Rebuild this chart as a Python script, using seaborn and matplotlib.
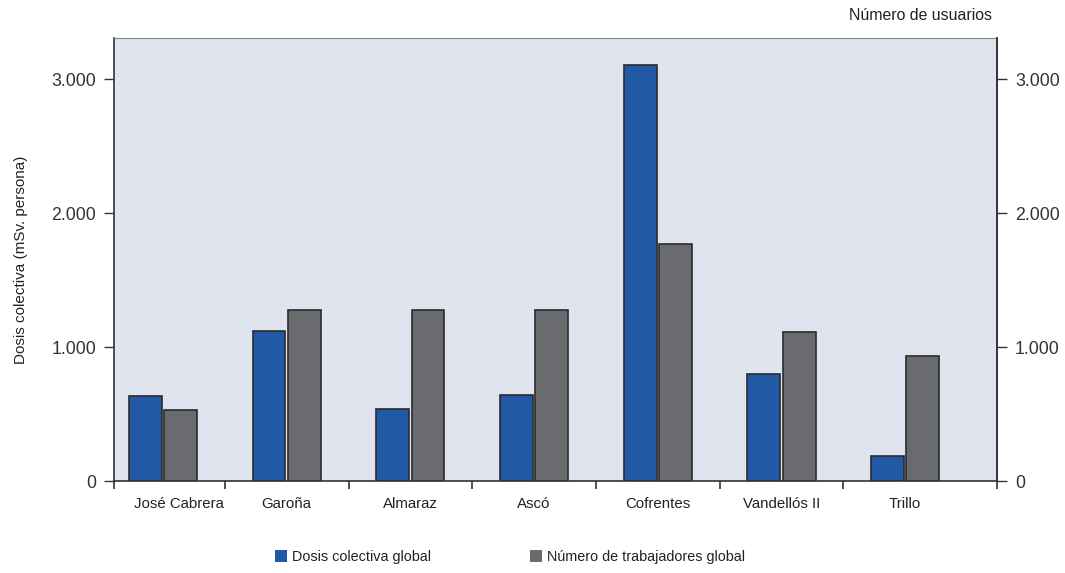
import numpy as np
import pandas as pd
import matplotlib as mpl
mpl.use('Agg')
import matplotlib.pyplot as plt
import matplotlib.transforms as mtransforms
from matplotlib.patches import Patch
from matplotlib.ticker import FuncFormatter, FixedLocator
import seaborn as sns

centrales = ['José Cabrera', 'Garoña', 'Almaraz', 'Ascó', 'Cofrentes', 'Vandellós II', 'Trillo']
dosis = [632, 1117, 537, 642, 3104, 799, 189]
trabajadores = [532, 1276, 1276, 1276, 1766, 1112, 933]
series = ['Dosis colectiva global', 'Número de trabajadores global']
colores = ['#2159A6', '#6A6B6F']
yticks = [0, 1000, 2000, 3000]

df = pd.DataFrame({
    'central': centrales * 2,
    'valor': dosis + trabajadores,
    'serie': [series[0]] * len(centrales) + [series[1]] * len(centrales),
})

sns.set_style('white')
plt.rcParams['font.family'] = ['Liberation Sans', 'DejaVu Sans']

fig = plt.figure(figsize=(10.65, 5.73), dpi=100)
ax = fig.add_axes([114 / 1065, 1 - 481 / 573, (997 - 114) / 1065, (481 - 38) / 573])
ax.set_facecolor('#DFE4EF')

sns.barplot(data=df, x='central', y='valor', hue='serie', palette=colores,
            width=0.57, gap=0.07, edgecolor='#2b2b2b', linewidth=1.2,
            saturation=1, ax=ax, legend=False)

ymax = 3306
ax.set_ylim(0, ymax)
ax.set_xlim(-0.396, 6.742)
fmt = FuncFormatter(lambda v, p: f'{int(v):,}'.replace(',', '.'))
ax.yaxis.set_major_locator(FixedLocator(yticks))
ax.yaxis.set_major_formatter(fmt)

# category boundary ticks
ax.set_xticks(range(len(centrales)))
ax.set_xticklabels(centrales)
ax.set_xticks([-0.396] + [i + 0.5 for i in range(len(centrales) - 1)] + [6.742], minor=True)
ax.tick_params(axis='x', which='major', length=0, pad=11.5, labelsize=10.8, colors='#222222')
ax.tick_params(axis='x', which='minor', bottom=True, length=6, width=1.2, color='#333333', direction='out')
ax.tick_params(axis='y', left=True, length=7, width=1, color='#333333', direction='out',
               labelsize=12.8, labelcolor='#333333', pad=6)
# first label sits a little right of its bars in the original
lbl = ax.get_xticklabels()[0]
lbl.set_transform(lbl.get_transform() + mtransforms.ScaledTranslation(0.16, 0, fig.dpi_scale_trans))
ax.set_xlabel('')
ax.set_ylabel('Dosis colectiva (mSv. persona)', fontsize=11, color='#222222', labelpad=17)

for s in ['left', 'bottom', 'right']:
    ax.spines[s].set_color('#333333')
    ax.spines[s].set_linewidth(1.2)
ax.spines['top'].set_color('#888888')
ax.spines['top'].set_linewidth(0.8)

ax2 = ax.twinx()
ax2.set_ylim(0, ymax)
ax2.yaxis.set_major_locator(FixedLocator(yticks))
ax2.yaxis.set_major_formatter(fmt)
ax2.tick_params(axis='y', right=True, length=7, width=1, color='#333333', direction='out',
                labelsize=12.8, labelcolor='#333333', pad=6)
ax2.spines['right'].set_color('#333333')
ax2.spines['right'].set_linewidth(1.2)
for s in ['left', 'top', 'bottom']:
    ax2.spines[s].set_visible(False)
ax2.set_ylabel('')
fig.text(992 / 1065, 1 - 16 / 573, 'Número de usuarios', ha='right', va='center',
         fontsize=11.4, color='#222222')

handles = [Patch(facecolor=c, edgecolor='none') for c in colores]
fig.legend(handles, series, loc='center left', bbox_to_anchor=(275 / 1065, 1 - 557 / 573),
           ncol=2, frameon=False, fontsize=10.4, handlelength=0.85, handleheight=0.85,
           handletextpad=0.35, columnspacing=6.8, borderpad=0, borderaxespad=0,
           labelcolor='#222222')

plt.savefig('out.png', dpi=100)
